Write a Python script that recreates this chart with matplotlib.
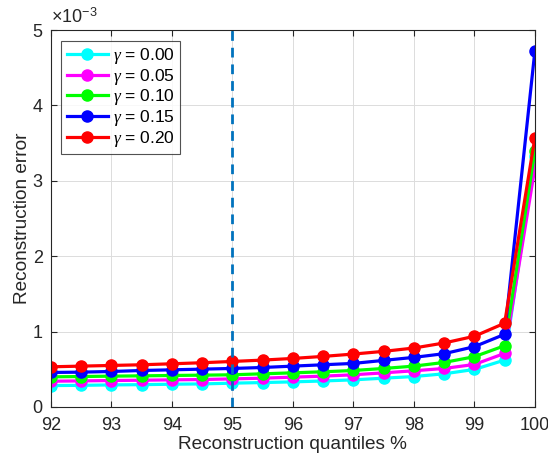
import matplotlib
matplotlib.use("Agg")
import matplotlib.pyplot as plt

plt.rcParams['font.family'] = ['Liberation Sans', 'DejaVu Sans']
plt.rcParams['mathtext.fontset'] = 'custom'
plt.rcParams['mathtext.rm'] = 'Liberation Sans'
plt.rcParams['mathtext.it'] = 'Liberation Serif:italic'

# reconstruction quantiles (%)
quantiles = [92, 92.5, 93, 93.5, 94, 94.5, 95, 95.5, 96, 96.5, 97, 97.5, 98, 98.5, 99, 99.5, 100]

# reconstruction error, in units of 1e-3
err_g000 = [0.284, 0.287, 0.293, 0.296, 0.302, 0.306, 0.316, 0.324, 0.333, 0.345, 0.360, 0.382, 0.404, 0.440, 0.498, 0.622, 3.33]
err_g005 = [0.342, 0.346, 0.351, 0.355, 0.360, 0.364, 0.373, 0.382, 0.396, 0.409, 0.427, 0.453, 0.480, 0.511, 0.564, 0.711, 3.17]
err_g010 = [0.400, 0.404, 0.409, 0.413, 0.418, 0.422, 0.427, 0.440, 0.453, 0.467, 0.484, 0.511, 0.542, 0.591, 0.667, 0.813, 3.39]
err_g015 = [0.458, 0.462, 0.471, 0.484, 0.493, 0.502, 0.511, 0.524, 0.542, 0.560, 0.578, 0.618, 0.658, 0.707, 0.800, 0.964, 4.72]
err_g020 = [0.533, 0.542, 0.551, 0.560, 0.573, 0.587, 0.604, 0.622, 0.644, 0.671, 0.702, 0.738, 0.782, 0.849, 0.938, 1.111, 3.57]

gammas = ['0.00', '0.05', '0.10', '0.15', '0.20']
colors = ['cyan', 'magenta', 'lime', 'blue', 'red']
series = [err_g000, err_g005, err_g010, err_g015, err_g020]

fig = plt.figure(figsize=(5.48, 4.63), dpi=100)
ax = fig.add_axes([0.093, 0.121, 0.883, 0.814])

for g, c, s in zip(gammas, colors, series):
    ax.plot(quantiles, s, '-o', color=c, lw=2.3, ms=8, label=r'$\gamma$ = ' + g)

ax.axvline(95, color=(0, 0.447, 0.741), lw=2, ls=(0, (3.5, 2.5)))

ax.set_xlim(92, 100)
ax.set_ylim(0, 5)
ax.set_xticks(range(92, 101))
ax.set_yticks(range(0, 6))
ax.grid(True, color='#dcdcdc', lw=0.7)
ax.set_axisbelow(True)
for sp in ax.spines.values():
    sp.set_color('#262626')
    sp.set_linewidth(0.8)
ax.tick_params(direction='in', labelsize=13, colors='#262626', length=4, top=True, right=True,
               labeltop=False, labelright=False)
ax.tick_params(axis='x', pad=7)
ax.tick_params(axis='y', pad=6)

ax.set_xlabel('Reconstruction quantiles %', fontsize=13.7, color='#262626', labelpad=2)
ax.set_ylabel('Reconstruction error', fontsize=13.7, color='#262626', labelpad=1)
ax.text(0.0, 1.008, r'$\times$10$^{-3}$', transform=ax.transAxes, fontsize=13,
        color='#262626', ha='left', va='bottom')

leg = ax.legend(loc='upper left', fontsize=12.5, frameon=True, fancybox=False,
                edgecolor='#262626', handlelength=2.4, borderaxespad=0.6,
                labelspacing=0.05, handletextpad=0.3, borderpad=0.3)
leg.get_frame().set_linewidth(0.8)

fig.savefig('out.png', dpi=100)
